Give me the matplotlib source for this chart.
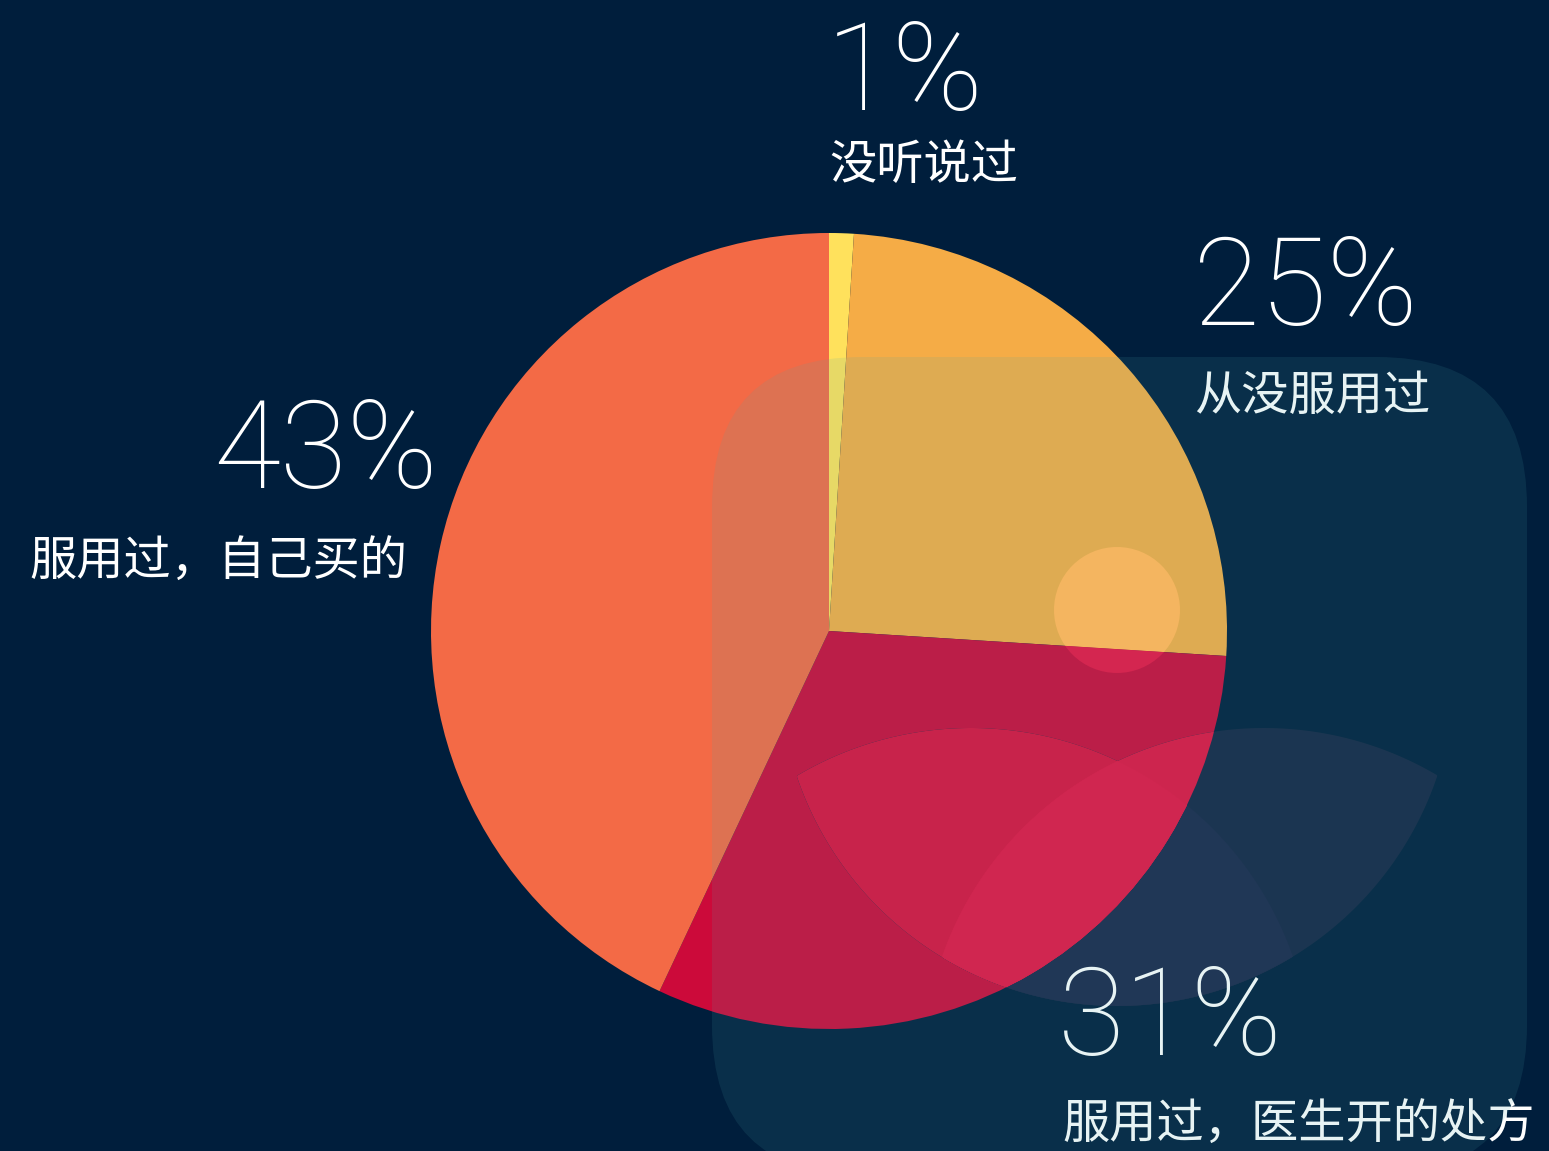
import numpy as np
import matplotlib.pyplot as plt
from matplotlib.patches import Circle, FancyBboxPatch, Polygon

# data
shares = [1, 25, 31, 43]
pct_labels = ['1%', '25%', '31%', '43%']
cat_labels = ['没听说过', '从没服用过', '服用过，医生开的处方', '服用过，自己买的']
colors = ['#FFE15C', '#F5AC46', '#CC0A3A', '#F36A46']

BG = '#001E3C'
W, H = 1549, 1151


def disk_intersection(disks, n=1440):
    # intersection of disks is convex -> sample boundaries, sort by angle
    pts = []
    t = np.linspace(0, 2 * np.pi, n, endpoint=False)
    for i, (cx, cy, r) in enumerate(disks):
        x = cx + r * np.cos(t)
        y = cy + r * np.sin(t)
        ok = np.ones(n, bool)
        for j, (cx2, cy2, r2) in enumerate(disks):
            if i != j:
                ok &= (x - cx2) ** 2 + (y - cy2) ** 2 <= r2 ** 2
        pts.append(np.column_stack([x[ok], y[ok]]))
    pts = np.vstack(pts)
    c = pts.mean(axis=0)
    order = np.argsort(np.arctan2(pts[:, 1] - c[1], pts[:, 0] - c[0]))
    return pts[order]


fig = plt.figure(figsize=(W / 100, H / 100), dpi=100, facecolor=BG)
ax = fig.add_axes([0, 0, 1, 1])
ax.set_facecolor(BG)

# pie (pixel coords, y axis inverted -> start at top, clockwise)
wedges, _ = ax.pie(shares, colors=colors, startangle=-90, counterclock=True,
                   center=(829, 631), radius=398,
                   wedgeprops=dict(linewidth=0, antialiased=True))
ax.set_xlim(0, W)
ax.set_ylim(H, 0)
ax.set_aspect('equal')
ax.axis('off')

# decorative lenses (colours before the translucent panel)
top_l = (971, 1069, 341)
top_r = (1264, 1069, 341)
bottom = (1117, 668, 338)
lens_l = disk_intersection([top_l, bottom])
lens_r = disk_intersection([top_r, bottom])
lens_both = disk_intersection([top_l, top_r, bottom])

for poly, col in [(lens_l, '#152544'), (lens_r, '#152544'), (lens_both, '#1A274A')]:
    ax.add_patch(Polygon(poly, closed=True, facecolor=col, edgecolor='none', zorder=1.5))
for poly, col in [(lens_l, '#DC103E'), (lens_r, '#E11241'), (lens_both, '#E51343')]:
    p = Polygon(poly, closed=True, facecolor=col, edgecolor='none', zorder=1.6)
    ax.add_patch(p)
    p.set_clip_path(wedges[2])

# labels
num_font = dict(family=['Roboto', 'DejaVu Sans'], fontweight=100, fontsize=88, color='white')
cjk_font = dict(family=['Noto Sans CJK SC', 'DejaVu Sans'], fontweight='light', fontsize=34, color='white')

ax.text(826, 110, pct_labels[0], ha='left', va='baseline', zorder=2, **num_font)
ax.text(829, 166, cat_labels[0], ha='left', va='center', zorder=2, **cjk_font)
ax.text(1193, 325, pct_labels[1], ha='left', va='baseline', zorder=2, **num_font)
ax.text(1194, 397, cat_labels[1], ha='left', va='center', zorder=2, **cjk_font)
ax.text(1058, 1055, pct_labels[2], ha='left', va='baseline', zorder=2, **num_font)
ax.text(1062, 1126, cat_labels[2], ha='left', va='center', zorder=2, **cjk_font)
ax.text(438, 488, pct_labels[3], ha='right', va='baseline', zorder=2, **num_font)
ax.text(29, 563, cat_labels[3], ha='left', va='center', zorder=2, **cjk_font)

# translucent rounded panel
panel = FancyBboxPatch((712, 357), 815, 818,
                       boxstyle='round,pad=0,rounding_size=150',
                       facecolor='#49A8AA', alpha=0.13, edgecolor='none', zorder=3)
ax.add_patch(panel)

# small glowing circle, split by the wedges it sits on
for wi, col in [(1, '#F4B560'), (2, '#D42650')]:
    c = Circle((1117, 610), 63, facecolor=col, edgecolor='none', zorder=4)
    ax.add_patch(c)
    c.set_clip_path(wedges[wi])

fig.savefig('out.png', dpi=100, facecolor=BG)
